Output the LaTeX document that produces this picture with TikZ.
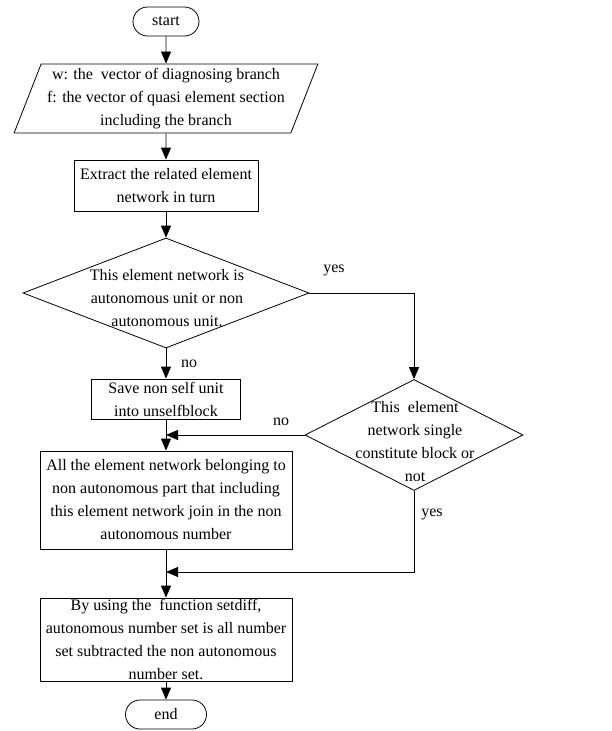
\documentclass[tikz,border=0pt]{standalone}
\usepackage{fontspec}
\setmainfont{Liberation Serif}
\usepackage{tikz}
\usetikzlibrary{arrows.meta,shapes.geometric,positioning}
\tikzset{
  fc diagram/.style={font=\fontsize{16}{23}\selectfont, line join=miter},
  fc box/.style={draw, line width=0.8pt, align=center, inner xsep=3pt, inner ysep=2pt},
  fc terminal/.style={fc box, rounded corners=14.5pt, minimum height=29pt},
  fc io/.style={fc box, trapezium, trapezium left angle=68, trapezium right angle=112,
    trapezium stretches=true, inner xsep=2pt},
  fc decision/.style={draw, line width=0.8pt, diamond, inner sep=0pt},
  fc text/.style={align=center, inner sep=0pt},
  fc arrow/.style={-{Triangle[length=12pt,width=10pt]}, line width=0.8pt},
  fc label/.style={inner sep=1pt}
}
\begin{document}
\begin{tikzpicture}[fc diagram,x=1pt,y=-1pt]
\useasboundingbox (0,0) rectangle (611,731);
% main column
\node[fc terminal, minimum width=66pt] (start) at (166,21.5) {start};
\node[fc io, minimum width=305pt, minimum height=69pt] (io) at (166,98.5)
  {w: the\ \ vector of diagnosing branch\\f: the vector of quasi element section\\including the branch};
\node[fc box, minimum width=184pt, minimum height=51pt] (extract) at (166,185.5)
  {Extract the related element\\network in turn};
\node[fc decision, minimum width=286pt, minimum height=110pt] (dec1) at (166,293) {};
\node[fc text] (dec1text) at (167,298) {This element network is\\autonomous unit or non\\autonomous unit.};
\node[fc box, minimum width=149pt, minimum height=40pt, inner ysep=0pt] (save) at (166,399)
  {Save non self unit\\into unselfblock};
\node[fc box, minimum width=252pt, minimum height=98pt] (join) at (166,500)
  {All the element network belonging to\\non autonomous part that including\\this element network join in the non\\autonomous number};
\node[fc box, minimum width=252pt, minimum height=83pt, inner ysep=0pt] (setdiff) at (166,639.5)
  {By using the\ \ function setdiff,\\autonomous number set is all number\\set subtracted the non autonomous\\number set.};
\node[fc terminal, minimum width=81pt] (end) at (166,714.5) {end};
% right branch
\node[fc decision, minimum width=218pt, minimum height=111pt] (dec2) at (414,435) {};
\node[fc text] (dec2text) at (415,442) {This\ \ element\\network single\\constitute block or\\not};
\coordinate (nojoin) at (save.south |- dec2.west);
\coordinate (yesjoin) at (join.south |- 0,572);
% connectors
\draw[fc arrow] (start.south) -- (io.north);
\draw[fc arrow] (io.south) -- (extract.north);
\draw[fc arrow] (extract.south) -- (dec1.north);
\draw[fc arrow] (dec1.south) -- (save.north);
\draw[fc arrow] (dec1.east) -| (dec2.north);
\draw[fc arrow] (save.south) -- (join.north);
\draw[fc arrow] (dec2.west) -- (nojoin);
\draw[fc arrow] (join.south) -- (setdiff.north);
\draw[fc arrow] (dec2.south) |- (yesjoin);
\draw[fc arrow] (setdiff.south) -- (end.north);
% labels
\node[fc label] (yes1) at (334,270) {yes};
\node[fc label] (no1) at (189,364) {no};
\node[fc label] (no2) at (281,422) {no};
\node[fc label] (yes2) at (432,514) {yes};
\end{tikzpicture}
\end{document}
